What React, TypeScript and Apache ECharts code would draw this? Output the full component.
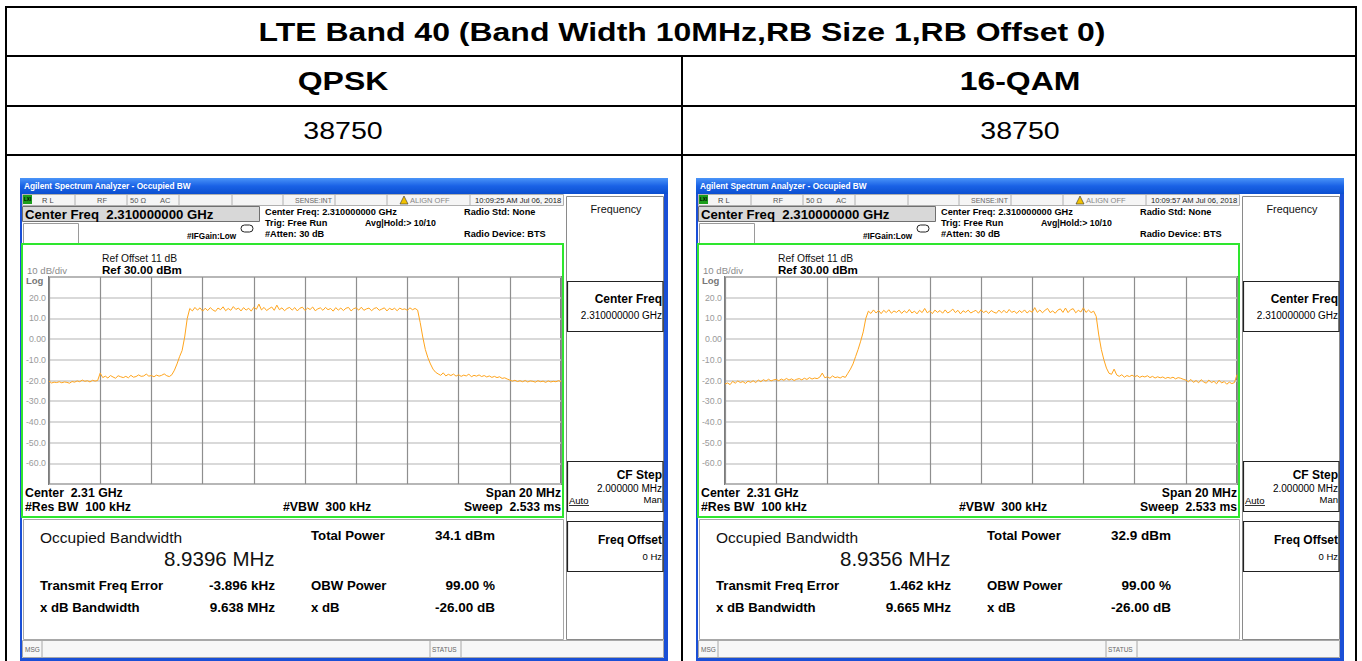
import React, { useEffect, useRef } from "react";
import * as echarts from "echarts";

const FONT = "'Liberation Sans', Arial, Helvetica, sans-serif";

// ---------- table texts ----------
const tableTitle = "LTE Band 40 (Band Width 10MHz,RB Size 1,RB Offset 0)";
const modulations = ["QPSK", "16-QAM"];
const channels = ["38750", "38750"];

// ---------- analyzer readouts ----------
const timestamps = ["10:09:25 AM Jul 06, 2018", "10:09:57 AM Jul 06, 2018"];
const occupiedBandwidth = ["8.9396 MHz", "8.9356 MHz"];
const totalPower = ["34.1 dBm", "32.9 dBm"];
const transmitFreqError = ["-3.896 kHz", "1.462 kHz"];
const xdBBandwidth = ["9.638 MHz", "9.665 MHz"];
const obwPower = ["99.00 %", "99.00 %"];
const xdBValue = ["-26.00 dB", "-26.00 dB"];

// frequency offset from 2.31 GHz centre (MHz), one trace point every 0.1 MHz
const FREQ_START_MHZ = -10;
const FREQ_STEP_MHZ = 0.1;
const REF_LEVEL = 30;
const BOTTOM_LEVEL = -70;

// trace levels (dBm), 201 points each
const qpskTrace = [
  -20.3, -21.2, -20.8, -21.0, -20.6, -21.1, -20.7, -20.9, -21.3, -20.5,
  -20.8, -20.2, -20.6, -19.8, -20.4, -20.1, -20.7, -19.9, -20.3, -20.0,
  -16.4, -18.6, -17.9, -18.8, -17.6, -18.3, -18.9, -17.7, -18.2, -18.6,
  -18.0, -18.7, -17.5, -18.4, -18.1, -17.3, -18.0, -17.8, -16.9, -17.9,
  -17.6, -18.2, -17.4, -17.9, -17.5, -16.8, -17.7, -18.1, -17.2, -15.0,
  -12.0, -8.5, -5.5, 1.0, 10.0,
  14.8, 13.6, 15.3, 14.0, 15.1, 13.5, 14.9, 13.8, 15.2, 14.1,
  13.4, 15.0, 14.2, 15.6, 13.7, 14.8, 13.9, 15.7, 14.3, 15.0,
  13.6, 15.2, 14.0, 14.9, 13.5, 15.4, 14.4, 16.9, 14.1, 15.3,
  13.8, 14.7, 15.5, 13.9, 16.4, 14.2, 15.1, 13.7, 14.8, 15.3,
  14.0, 15.2, 13.6, 14.9, 15.4, 13.8, 15.0, 14.3, 15.5, 13.7,
  14.6, 15.1, 13.9, 15.3, 14.2, 14.8, 13.5, 15.2, 14.0, 15.0,
  13.8, 14.9, 15.3, 13.6, 14.7, 15.1, 14.0, 15.4, 13.9, 14.6,
  15.0, 13.7, 14.8, 15.2, 13.9, 14.5, 15.1, 13.6, 14.9, 14.2,
  14.9, 13.7, 15.0, 14.3, 14.6, 13.9, 15.1, 14.2, 14.8, 14.0,
  8.0, 1.0, -5.0, -9.0, -12.0,
  -14.5, -16.0, -16.8, -17.5, -16.3, -17.8, -17.0, -17.6, -16.9, -17.9,
  -17.2, -18.0, -17.4, -17.8, -16.9, -18.2, -17.5, -17.9, -17.3, -18.1,
  -17.6, -18.3, -17.8, -18.5, -18.0, -18.6, -18.2, -19.0, -18.7, -19.3,
  -19.8, -20.3, -19.9, -20.5, -20.1, -20.6, -20.0, -20.7, -20.2, -20.4,
  -20.8, -20.1, -20.6, -20.3, -20.9, -20.2, -20.7, -20.4, -20.6, -20.1, -20.5,
];

const qam16Trace = [
  -21.7, -21.2, -22.0, -20.4, -21.3, -20.2, -21.0, -20.5, -21.4, -20.3,
  -20.9, -20.1, -21.0, -19.8, -20.6, -19.6, -20.3, -19.4, -20.2, -19.7,
  -19.5, -20.1, -19.3, -19.9, -19.0, -19.8, -19.2, -20.0, -19.4, -19.1,
  -19.7, -18.9, -19.5, -18.6, -19.3, -18.8, -19.1, -18.4, -16.4, -18.7,
  -18.2, -18.9, -17.8, -18.6, -18.3, -18.8, -18.0, -18.5, -16.5, -14.5,
  -12.0, -8.5, -5.0, -1.0, 3.5,
  10.0, 13.5, 12.4, 14.1, 12.6, 13.8, 12.3, 13.9, 12.8, 14.2,
  12.5, 13.6, 12.9, 14.0, 12.4, 13.7, 12.7, 14.3, 12.6, 13.5,
  12.2, 13.9, 12.8, 14.8, 12.7, 13.6, 12.3, 14.0, 12.9, 13.8,
  12.5, 14.1, 12.6, 13.4, 14.5, 12.8, 13.9, 12.2, 13.7, 12.9,
  14.0, 12.6, 13.3, 13.9, 12.5, 14.2, 12.8, 13.6, 12.4, 13.8,
  13.0, 12.5, 14.0, 12.7, 13.9, 12.6, 14.3, 12.9, 13.5, 12.4,
  13.8, 12.8, 14.1, 12.6, 13.7, 13.0, 15.2, 12.9, 14.1, 12.7,
  13.9, 14.8, 12.8, 13.6, 12.5, 14.0, 14.6, 12.9, 15.0, 12.8,
  14.2, 14.7, 12.7, 13.9, 13.1, 15.1, 12.9, 14.0, 12.8, 13.5,
  11.0, 2.0, -5.0, -10.0, -14.0,
  -16.5, -17.0, -14.5, -17.3, -18.0, -17.2, -18.4, -17.6, -18.1, -17.4,
  -18.2, -17.6, -18.5, -17.9, -18.3, -17.7, -18.6, -18.0, -18.8, -18.2,
  -18.7, -18.3, -19.0, -18.5, -18.9, -18.4, -19.2, -18.6, -18.9, -19.4,
  -19.8, -20.6, -19.5, -20.9, -20.0, -21.1, -19.6, -20.7, -21.3, -19.8,
  -21.0, -20.4, -21.6, -19.9, -21.2, -20.5, -21.8, -20.8, -21.5, -21.0, -17.2,
];

const traces = [qpskTrace, qam16Trace];
const panelOffsets = [0, 676];

// ---------- graphic helpers ----------
type TOpt = { b?: boolean; c?: string; a?: string; sx?: number };
function T(x: number, y: number, text: string, size: number, o: TOpt = {}) {
  return {
    type: "text",
    x,
    y,
    scaleX: o.sx || 1,
    silent: true,
    z: 50,
    style: {
      text,
      font: `${o.b ? "bold " : ""}${size}px ${FONT}`,
      fill: o.c || "#000",
      textAlign: o.a || "left",
      textVerticalAlign: "middle",
    },
  };
}
function R(x: number, y: number, w: number, h: number, fill: any, stroke?: string, lw = 1) {
  return {
    type: "rect",
    silent: true,
    shape: { x, y, width: w, height: h },
    style: { fill: fill || "none", stroke: stroke || "none", lineWidth: lw },
  };
}
function L(x1: number, y1: number, x2: number, y2: number, stroke: string, lw = 1) {
  return {
    type: "line",
    silent: true,
    shape: { x1, y1, x2, y2 },
    style: { stroke, lineWidth: lw },
  };
}

function panelGraphics(ox: number, i: number) {
  const blue = "#1a4fd6";
  const titleGrad = new echarts.graphic.LinearGradient(0, 0, 0, 1, [
    { offset: 0, color: "#4a94f8" },
    { offset: 0.5, color: "#1a62e6" },
    { offset: 1, color: "#0b4fd0" },
  ]);
  const els: any[] = [];
  // window frame
  els.push(R(ox + 20, 178, 648, 16, titleGrad));
  els.push(T(ox + 24, 186, "Agilent Spectrum Analyzer - Occupied BW", 8.3, { b: true, c: "#ffffff" }));
  els.push(R(ox + 20, 194, 2, 470, blue));
  els.push(R(ox + 664, 194, 4, 470, blue));
  els.push(R(ox + 20, 658, 648, 5, blue));

  // status row
  els.push(R(ox + 22.5, 194.5, 541, 11, "#f5f5f5", "#b0b0b0", 1));
  [75, 127, 179, 232, 283, 335, 387, 470].forEach((d) => els.push(L(ox + d, 195, ox + d, 205, "#b0b0b0", 1)));
  els.push(R(ox + 23, 195, 9, 9, "#1c9e1c"));
  els.push(T(ox + 27.5, 199.8, "LXI", 4.5, { b: true, c: "#000", a: "center" }));
  els.push(T(ox + 42, 200, "R L", 7.5, { c: "#444" }));
  els.push(T(ox + 97, 200, "RF", 7.5, { c: "#555" }));
  els.push(T(ox + 130, 200, "50 Ω", 7.5, { c: "#555" }));
  els.push(T(ox + 160, 200, "AC", 7.5, { c: "#555" }));
  els.push(T(ox + 295, 200, "SENSE:INT", 7, { c: "#666" }));
  els.push({
    type: "polygon",
    silent: true,
    shape: { points: [[ox + 404, 196], [ox + 400, 204], [ox + 408, 204]] },
    style: { fill: "#f2c200", stroke: "#333", lineWidth: 0.6 },
  });
  els.push(T(ox + 410, 200, "ALIGN OFF", 7.5, { c: "#888" }));
  els.push(T(ox + 475, 200, timestamps[i], 7.6, { c: "#222" }));

  // centre frequency box and settings
  els.push(R(ox + 22.5, 206.5, 237, 15, "#d8d8d8", "#707070", 1));
  els.push(T(ox + 25, 214.5, "Center Freq  2.310000000 GHz", 13.2, { b: true }));
  els.push(R(ox + 23.5, 223.5, 55, 20, "#ffffff", "#9a9a9a", 1));
  els.push(T(ox + 265, 212, "Center Freq: 2.310000000 GHz", 9.2, { b: true }));
  els.push(T(ox + 265, 223, "Trig: Free Run", 9.2, { b: true }));
  els.push(T(ox + 265, 233.5, "#Atten: 30 dB", 9.2, { b: true }));
  els.push(T(ox + 365, 223, "Avg|Hold:> 10/10", 8.8, { b: true }));
  els.push(T(ox + 464, 212, "Radio Std: None", 9.2, { b: true }));
  els.push(T(ox + 464, 234, "Radio Device: BTS", 9.2, { b: true }));
  els.push(T(ox + 187, 236.5, "#IFGain:Low", 8.2, { b: true }));
  els.push({
    type: "rect",
    silent: true,
    shape: { x: ox + 241, y: 225, width: 12, height: 7, r: 3.5 },
    style: { fill: "none", stroke: "#222", lineWidth: 1 },
  });

  // display frame
  els.push(R(ox + 22, 244, 541, 273, "none", "#2ee62e", 2));
  els.push(T(ox + 102, 258, "Ref Offset 11 dB", 10.3, { c: "#111" }));
  els.push(T(ox + 102, 269.5, "Ref 30.00 dBm", 11.6, { b: true }));
  els.push(T(ox + 27, 270, "10 dB/div", 9.6, { c: "#8c8c8c" }));
  els.push(T(ox + 26, 280.5, "Log", 9.5, { b: true, c: "#777" }));
  els.push(T(ox + 25, 492.5, "Center  2.31 GHz", 12.3, { b: true }));
  els.push(T(ox + 25, 507, "#Res BW  100 kHz", 12.3, { b: true }));
  els.push(T(ox + 283, 507, "#VBW  300 kHz", 12.3, { b: true }));
  els.push(T(ox + 561, 492.5, "Span 20 MHz", 12.2, { b: true, a: "right" }));
  els.push(T(ox + 561, 507, "Sweep  2.533 ms", 12.2, { b: true, a: "right" }));

  // soft-key column
  els.push(R(ox + 566.5, 196.5, 97, 443, "#ffffff", "#8a8a8a", 1));
  els.push(T(ox + 616, 209, "Frequency", 10.8, { a: "center", c: "#111" }));
  els.push(R(ox + 567.5, 281.5, 95.5, 50, "#ffffff", "#222", 1.2));
  els.push(T(ox + 662, 298.5, "Center Freq", 12, { b: true, a: "right" }));
  els.push(T(ox + 662, 315, "2.310000000 GHz", 10, { a: "right" }));
  els.push(R(ox + 567.5, 461.5, 95.5, 50, "#ffffff", "#222", 1.2));
  els.push(T(ox + 662, 475, "CF Step", 12, { b: true, a: "right" }));
  els.push(T(ox + 662, 488, "2.000000 MHz", 10, { a: "right" }));
  els.push(T(ox + 569, 500, "Auto", 9.5));
  els.push(L(ox + 569, 505.5, ox + 589, 505.5, "#000", 0.8));
  els.push(T(ox + 662, 499.5, "Man", 9.5, { a: "right" }));
  els.push(R(ox + 567.5, 521.5, 95.5, 50, "#ffffff", "#222", 1.2));
  els.push(T(ox + 662, 540, "Freq Offset", 12, { b: true, a: "right" }));
  els.push(T(ox + 662, 556, "0 Hz", 9.5, { a: "right" }));

  // results panel
  els.push(R(ox + 23.5, 519.5, 540, 120, "#ffffff", "#a8a8a8", 1));
  els.push(T(ox + 40, 537.5, "Occupied Bandwidth", 15.5, { c: "#111" }));
  els.push(T(ox + 164, 558, occupiedBandwidth[i], 20.5, { c: "#111" }));
  els.push(T(ox + 40, 585.5, "Transmit Freq Error", 13.2, { b: true }));
  els.push(T(ox + 275, 585.5, transmitFreqError[i], 13.5, { b: true, a: "right" }));
  els.push(T(ox + 40, 607, "x dB Bandwidth", 13.2, { b: true }));
  els.push(T(ox + 275, 607, xdBBandwidth[i], 13.5, { b: true, a: "right" }));
  els.push(T(ox + 311, 535, "Total Power", 13.2, { b: true }));
  els.push(T(ox + 495, 535, totalPower[i], 13.5, { b: true, a: "right" }));
  els.push(T(ox + 311, 585.5, "OBW Power", 13.2, { b: true }));
  els.push(T(ox + 495, 585.5, obwPower[i], 13.5, { b: true, a: "right" }));
  els.push(T(ox + 311, 607, "x dB", 13.2, { b: true }));
  els.push(T(ox + 495, 607, xdBValue[i], 13.5, { b: true, a: "right" }));

  // bottom status bar
  els.push(R(ox + 22.5, 640.5, 641, 17, "#f7f7f7", "#a8a8a8", 1));
  els.push(L(ox + 42, 641, ox + 42, 657, "#a8a8a8", 1));
  els.push(L(ox + 430, 641, ox + 430, 657, "#a8a8a8", 1));
  els.push(L(ox + 461, 641, ox + 461, 657, "#a8a8a8", 1));
  els.push(T(ox + 25, 649, "MSG", 6.5, { c: "#666" }));
  els.push(T(ox + 432, 649, "STATUS", 6.5, { c: "#666" }));
  return els;
}

function tableGraphics() {
  const els: any[] = [];
  els.push(R(6, 7, 1350, 720, "none", "#000", 2));
  els.push(L(6, 56, 1356, 56, "#000", 2));
  els.push(L(6, 106, 1356, 106, "#000", 2));
  els.push(L(6, 155, 1356, 155, "#000", 2));
  els.push(L(682, 56, 682, 661, "#000", 2));
  els.push(T(682, 32, tableTitle, 25, { b: true, a: "center", sx: 1.28 }));
  const centres = [343, 1020];
  centres.forEach((cx, i) => {
    els.push(T(cx, 81, modulations[i], 26, { b: true, a: "center", sx: 1.23 }));
    els.push(T(cx, 131, channels[i], 24, { a: "center", sx: 1.19 }));
  });
  return els;
}

function yLabel(v: number) {
  if (v === REF_LEVEL || v === BOTTOM_LEVEL) return "";
  if (v === 0) return "0.00";
  return v.toFixed(1);
}

export default function App() {
  const ref = useRef<HTMLDivElement>(null);
  useEffect(() => {
    if (!ref.current) return;
    const chart = echarts.init(ref.current, undefined, { renderer: "svg" });
    const grids = panelOffsets.map((ox) => ({
      left: ox + 49,
      top: 277,
      width: 512,
      height: 207,
      show: true,
      borderColor: "#7a7a7a",
      borderWidth: 2,
      backgroundColor: "transparent",
    }));
    const xAxes = panelOffsets.map((_, k) => ({
      type: "value",
      gridIndex: k,
      min: FREQ_START_MHZ,
      max: -FREQ_START_MHZ,
      interval: 2,
      axisLine: { show: false },
      axisTick: { show: false },
      axisLabel: { show: false },
      splitLine: { show: true, lineStyle: { color: "#8e8e8e", width: 1.2 } },
    }));
    const yAxes = panelOffsets.map((_, k) => ({
      type: "value",
      gridIndex: k,
      min: BOTTOM_LEVEL,
      max: REF_LEVEL,
      interval: 10,
      axisLine: { show: false },
      axisTick: { show: false },
      axisLabel: {
        show: true,
        formatter: yLabel,
        color: "#9a9a9a",
        fontSize: 8.8,
        fontFamily: FONT,
        margin: 3,
      },
      splitLine: { show: true, lineStyle: { color: "#cdcdcd", width: 1.5 } },
    }));
    const series = traces.map((tr, k) => ({
      type: "line",
      xAxisIndex: k,
      yAxisIndex: k,
      showSymbol: false,
      symbol: "none",
      data: tr.map((v, j) => [FREQ_START_MHZ + j * FREQ_STEP_MHZ, v]),
      lineStyle: { color: "#ffa41c", width: 1 },
      z: 5,
    }));
    const graphic = [
      ...tableGraphics(),
      ...panelGraphics(panelOffsets[0], 0),
      ...panelGraphics(panelOffsets[1], 1),
    ];
    chart.setOption({
      animation: false,
      backgroundColor: "#ffffff",
      grid: grids,
      xAxis: xAxes,
      yAxis: yAxes,
      series,
      graphic: { elements: graphic },
    });
    return () => chart.dispose();
  }, []);
  return (
    <div
      ref={ref}
      style={{ position: "absolute", left: 0, top: 0, width: 1362, height: 661 }}
    />
  );
}
